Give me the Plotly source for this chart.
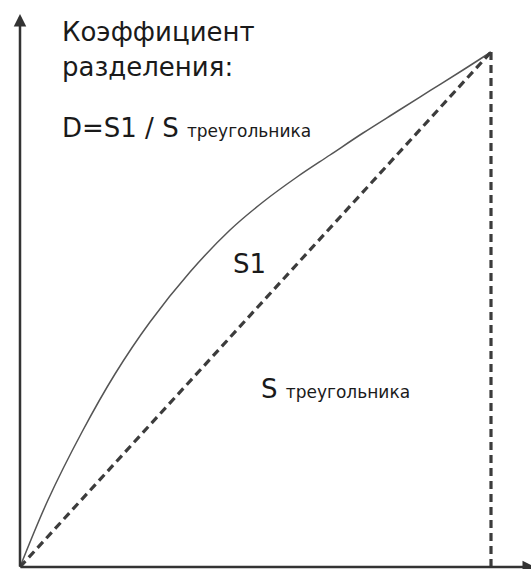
import plotly.graph_objects as go

# Curve (pixel readings, converted to shares below)
curve_px_x = [20, 48, 82, 115, 150, 190, 230, 263, 297, 330, 363, 397, 430, 463, 491]
curve_px_y = [567, 500, 432, 374, 322, 272, 230, 202, 177, 155, 133, 111.5, 90.7, 70, 52]

diag_x = [0.0, 1.0]
diag_y = [0.0, 1.0]
vert_x = [1.0, 1.0]
vert_y = [0.0, 1.0]

title_line1 = "Коэффициент"
title_line2 = "разделения:"
formula = "D=S1 / S <span style='font-size:17px'>треугольника</span>"
label_s1 = "S1"
label_tri = "S <span style='font-size:17px'>треугольника</span>"

W, H = 531, 569
OX, OY = 20, 567
SX, SY = 471, 515

def px2x(px):
    return (px - OX) / SX

def py2y(py):
    return (OY - py) / SY

curve_x = [px2x(v) for v in curve_px_x]
curve_y = [py2y(v) for v in curve_px_y]

fig = go.Figure()
fig.add_trace(go.Scatter(x=curve_x, y=curve_y, mode="lines",
                         line=dict(color="#555555", width=1.5, shape="spline", smoothing=1.0),
                         hoverinfo="skip", showlegend=False))
fig.add_trace(go.Scatter(x=diag_x, y=diag_y, mode="lines",
                         line=dict(color="#3c3c3c", width=3.2, dash="8px,5px"),
                         hoverinfo="skip", showlegend=False))
fig.add_trace(go.Scatter(x=vert_x, y=vert_y, mode="lines",
                         line=dict(color="#3c3c3c", width=3.2, dash="8px,5px"),
                         hoverinfo="skip", showlegend=False))

font = dict(family="DejaVu Sans, Arial, sans-serif", size=26, color="#1a1a1a")
annots = [
    dict(text=title_line1, x=px2x(60), y=py2y(32)),
    dict(text=title_line2, x=px2x(60), y=py2y(67)),
    dict(text=formula, x=px2x(60), y=py2y(128)),
    dict(text=label_s1, x=px2x(231), y=py2y(264)),
    dict(text=label_tri, x=px2x(259), y=py2y(389)),
]
for a in annots:
    fig.add_annotation(xref="x", yref="y", xanchor="left", yanchor="middle",
                       showarrow=False, font=font, **a)

# axes with arrows
fig.add_annotation(xref="x", yref="y", axref="x", ayref="y",
                   x=px2x(20), y=py2y(14), ax=px2x(20), ay=py2y(568),
                   showarrow=True, arrowhead=2, arrowsize=1, arrowwidth=2.5,
                   arrowcolor="#333333", text="")
fig.add_annotation(xref="x", yref="y", axref="x", ayref="y",
                   x=px2x(535), y=py2y(567), ax=px2x(19), ay=py2y(567),
                   showarrow=True, arrowhead=2, arrowsize=1, arrowwidth=2.5,
                   arrowcolor="#333333", text="")

fig.update_layout(
    width=W, height=H,
    margin=dict(l=0, r=0, t=0, b=0),
    paper_bgcolor="white", plot_bgcolor="white",
    xaxis=dict(range=[px2x(0), px2x(W)], visible=False, fixedrange=True),
    yaxis=dict(range=[py2y(H), py2y(0)], visible=False, fixedrange=True),
    showlegend=False,
)
fig.write_html("out.html", config={"displayModeBar": False},
               post_script="document.body.style.margin='0px';document.body.style.overflow='hidden';")
